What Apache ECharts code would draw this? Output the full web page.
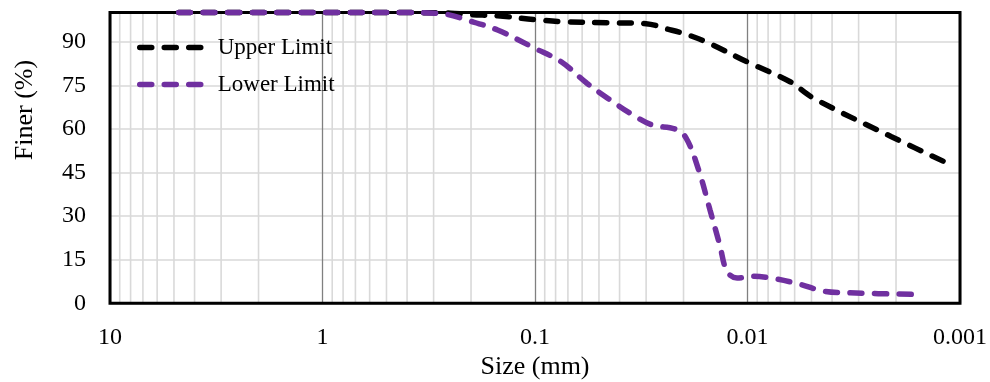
<!DOCTYPE html>
<html>
<head>
<meta charset="utf-8">
<script src="https://cdn.jsdelivr.net/npm/echarts@6/dist/echarts.min.js"></script>
<style>
  html, body { margin: 0; padding: 0; background: #fff; }
  #chart { width: 990px; height: 382px; }
</style>
</head>
<body>
<div id="chart"></div>
<script>
// Grain size envelope: particle size (mm) vs percent finer
const upperLimit = [
  [4.75, 100], [2, 100], [0.85, 100], [0.425, 100], [0.25, 99.8], [0.2, 99.3],
  [0.15, 98.9], [0.1, 97.6], [0.075, 96.9], [0.045, 96.5], [0.03, 96.2],
  [0.024, 94.4], [0.019, 92.3], [0.015, 89.3], [0.01, 83], [0.0063, 76.2],
  [0.0049, 70.6], [0.0021, 57.3], [0.0011, 47.6]
];
const lowerLimit = [
  [4.75, 100], [2, 100], [0.85, 100], [0.425, 100], [0.28, 99.7], [0.2, 97],
  [0.15, 94], [0.1, 87.7], [0.075, 83], [0.057, 75.7], [0.045, 70.3],
  [0.035, 65], [0.028, 61.3], [0.022, 60], [0.0195, 57], [0.017, 46],
  [0.015, 32], [0.0135, 20], [0.0125, 11], [0.0112, 8.7], [0.0095, 9.3],
  [0.0075, 8.5], [0.0057, 6.6], [0.0044, 4.2], [0.0033, 3.6], [0.0015, 3.0]
];

// Axis ticks
const xTickValues = [10, 1, 0.1, 0.01, 0.001];
const xTickLabels = ['10', '1', '0.1', '0.01', '0.001'];
const yTickLabels = ['0', '15', '30', '45', '60', '75', '90'];
const minorSteps = [2, 3, 4, 5, 6, 7, 8, 9];
const minorDecades = [1, 0.1, 0.01, 0.001];

// Light vertical grid lines at 2..9 within each decade, broken with '-'
const minorGrid = [];
minorDecades.forEach(d => {
  minorSteps.forEach(s => {
    const v = +(s * d).toPrecision(6);
    minorGrid.push([v, 0], [v, 100], [v, '-']);
  });
});

const serif = "'Liberation Serif', 'Times New Roman', serif";
const dash = [12, 12.5];
const lineW = 5.5;

const chart = echarts.init(document.getElementById('chart'), null, { renderer: 'canvas' });

chart.setOption({
  animation: false,
  backgroundColor: '#ffffff',
  grid: {
    left: 110, right: 30, top: 12.6, bottom: 78.7, z: 2,
    outerBoundsMode: 'none', containLabel: false,
    show: true, borderColor: '#000000', borderWidth: 3,
    backgroundColor: 'transparent'
  },
  legend: {
    data: ['Upper Limit', 'Lower Limit'],
    orient: 'vertical',
    left: 137, top: 36, padding: 0,
    itemWidth: 65, itemHeight: 14, itemGap: 14,
    itemStyle: { opacity: 0 },
    lineStyle: { width: lineW, type: dash, cap: 'round' },
    textStyle: { fontFamily: serif, fontSize: 23, color: '#000', padding: [0, 0, 0, 8] }
  },
  xAxis: {
    type: 'log', logBase: 10, min: 0.001, max: 10, inverse: true,
    name: 'Size (mm)', nameLocation: 'middle', nameGap: 41,
    nameTextStyle: { fontFamily: serif, fontSize: 26, color: '#000' },
    axisLine: { show: false }, axisTick: { show: false },
    axisLabel: {
      margin: 22, fontFamily: serif, fontSize: 24, color: '#000',
      formatter: v => {
        const e = Math.log10(v);
        const i = xTickValues.findIndex(t => Math.abs(Math.log10(t) - e) < 1e-6);
        return i >= 0 ? xTickLabels[i] : '';
      }
    },
    splitLine: { show: true, lineStyle: { color: '#808080', width: 1.3 } }
  },
  yAxis: {
    type: 'value', min: 0, max: 100, interval: 15,
    axisLine: { show: false }, axisTick: { show: false },
    axisLabel: {
      margin: 24, fontFamily: serif, fontSize: 24, color: '#000',
      formatter: v => (yTickLabels.indexOf(String(v)) >= 0 ? String(v) : '')
    },
    splitLine: { show: true, lineStyle: { color: '#d9d9d9', width: 1.6 } }
  },
  graphic: [{
    type: 'text', x: 25, y: 110, rotation: Math.PI / 2,
    style: {
      text: 'Finer (%)', fontFamily: serif, fontSize: 26, fill: '#000',
      align: 'center', verticalAlign: 'middle'
    }
  }],
  series: [
    {
      name: 'minor grid', type: 'line', data: minorGrid, z: 1, silent: true,
      symbol: 'none', connectNulls: false,
      lineStyle: { color: '#d9d9d9', width: 1.6 }
    },
    {
      name: 'Upper Limit', type: 'line', data: upperLimit, z: 3,
      symbol: 'none', smooth: 0.35, clip: false,
      lineStyle: { color: '#000000', width: lineW, type: dash, cap: 'round' },
      itemStyle: { color: '#000000' }
    },
    {
      name: 'Lower Limit', type: 'line', data: lowerLimit, z: 4,
      symbol: 'none', smooth: 0.35, clip: false,
      lineStyle: { color: '#7030a0', width: lineW, type: dash, cap: 'round' },
      itemStyle: { color: '#7030a0' }
    }
  ]
});
</script>
</body>
</html>
